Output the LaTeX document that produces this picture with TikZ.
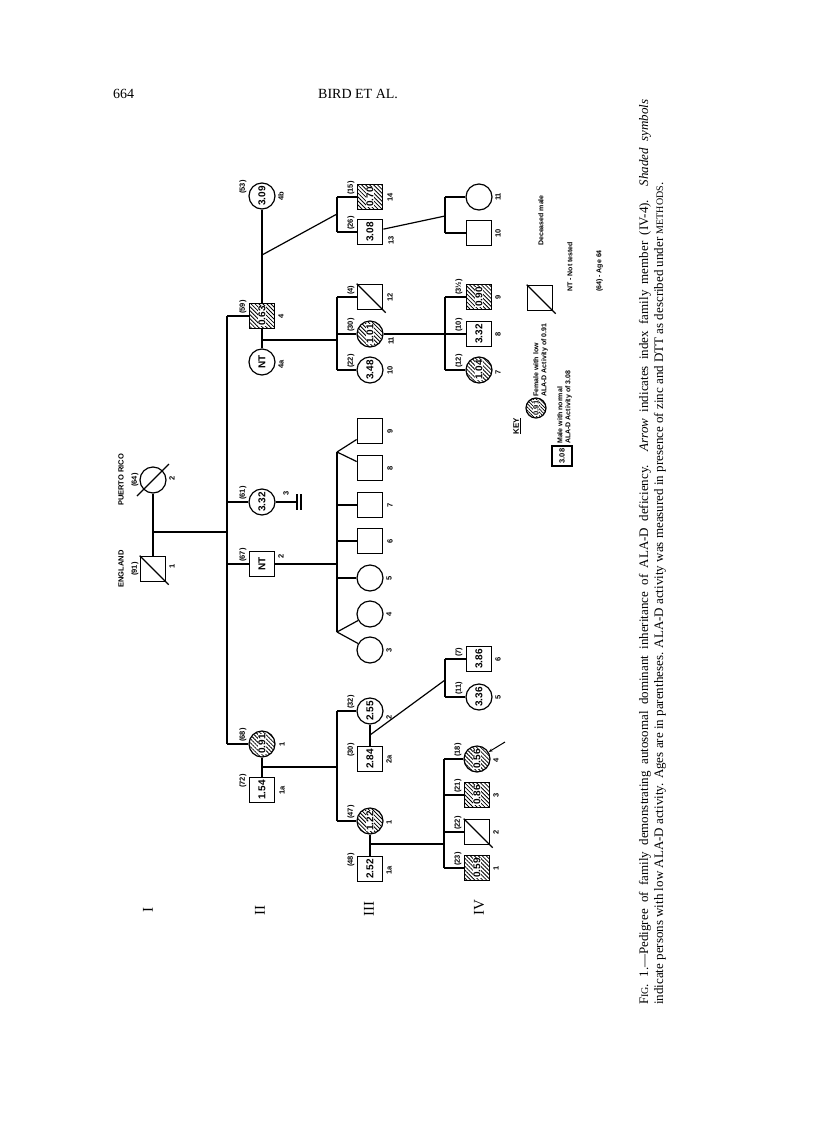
\documentclass[tikz,border=0pt]{standalone}
\usepackage{fontspec}
\setmainfont{Liberation Serif}
\newfontfamily\pedfont{Liberation Sans}
\usetikzlibrary{patterns.meta,arrows.meta}
\begin{document}
\begin{tikzpicture}[x=1pt,y=-1pt,
  ln/.style={line width=1.2pt},
  sym/.style={draw,line width=1.2pt,inner sep=0pt},
  msq/.style={sym,rectangle,minimum size=25.5pt},
  fci/.style={sym,circle,minimum size=26pt},
  val/.style={rotate=90,inner sep=0pt,font=\pedfont\bfseries\fontsize{10}{10}\selectfont},
  valw/.style={val,fill=white,inner sep=0.5pt},
  v/.style={label={[val]center:#1}},
  aff/.style={pattern={Lines[angle=-45,distance=2.8pt,line width=0.8pt]},label={[valw]center:#1}},
  age/.style={rotate=90,anchor=west,inner sep=0pt,font=\pedfont\bfseries\fontsize{7.5}{7.5}\selectfont},
  num/.style={rotate=90,inner sep=0pt,font=\pedfont\bfseries\fontsize{7.5}{7.5}\selectfont},
  keytx/.style={rotate=90,inner sep=0pt,align=left,font=\pedfont\bfseries\fontsize{7}{8}\selectfont},
  gentx/.style={rotate=90,inner sep=0pt,font=\fontsize{15}{15}\selectfont},
  captx/.style={rotate=90,anchor=west,inner sep=0pt,font=\fontsize{13}{13}\selectfont},
]
\useasboundingbox (0,0) rectangle (816,1122);
\fill[white] (0,0) rectangle (816,1122);

% header
\node[anchor=base west,inner sep=0pt,font=\fontsize{14}{14}\selectfont] (pg) at (113,98) {664};
\node[anchor=base west,inner sep=0pt,font=\fontsize{14}{14}\selectfont] (hd) at (318,98) {BIRD ET AL.};

% generation labels
\node[gentx] (gI) at (148,910) {I};
\node[gentx] (gII) at (260,910) {II};
\node[gentx] (gIII) at (369,909) {III};
\node[gentx] (gIV) at (479,908) {IV};

% ---------- Generation I
\node[msq] (I1) at (153,569) {};
\node[fci] (I2) at (153,480) {};
\draw[ln] (I1.north west) -- ++(29,29);
\draw[ln] (I2.center) ++(-16,16) -- ++(32,-32);
\node[num] (tEng) at (121,569) {ENGLAND};
\node[num] (tPR) at (121,480) {PUERTO RICO};
\node[num] (aI1) at (135,569) {(91)};
\node[num] (aI2) at (135,480) {(64)};
\node[num] (nI1) at (172,566) {1};
\node[num] (nI2) at (172,478) {2};
\draw[ln] (I2) -- (I1);
\coordinate (mI) at (153,532);
\coordinate (sII) at (227,532);
\draw[ln] (mI) -- (sII);

% ---------- Generation II
\node[msq,aff=0.63] (II4) at (262,316) {};
\node[fci,v=3.09] (II4b) at (262,196) {};
\node[fci,v=NT] (II4a) at (262,362) {};
\node[fci,v=3.32] (II3) at (262,502) {};
\node[msq,v=NT] (II2) at (262,564) {};
\node[fci,aff=0.91] (II1) at (262,744) {};
\node[msq,v=1.54] (II1a) at (262,790) {};
\draw[ln] (227,316) -- (227,744);
\draw[ln] (227,316) -- (II4);
\draw[ln] (227,502) -- (II3);
\draw[ln] (227,564) -- (II2);
\draw[ln] (227,744) -- (II1);
\draw[ln] (II4b) -- (II4);
\draw[ln] (II4) -- (II4a);
\draw[ln] (II1) -- (II1a);
\draw[ln] (II3) -- (297,502);
\draw[ln] (297,494) -- (297,510);
\draw[ln] (301,494) -- (301,510);
\node[age] at (243,314) {(59)};
\node[age] at (243,194) {(53)};
\node[age] at (243,500) {(61)};
\node[age] at (243,562) {(67)};
\node[age] at (243,742) {(68)};
\node[age] at (243,788) {(72)};
\node[num] at (281,316) {4};
\node[num] at (281,196) {4b};
\node[num] at (281,364) {4a};
\node[num] at (286,493) {3};
\node[num] at (281,556) {2};
\node[num] at (282,744) {1};
\node[num] at (282,790) {1a};

% ---------- Generation III
% children of II-4 x II-4b
\node[msq,aff=0.70] (III14) at (370,197) {};
\node[msq,v=3.08] (III13) at (370,232) {};
\coordinate (dA) at (262,255);
\draw[ln] (dA) -- (337,214);
\draw[ln] (337,197) -- (337,232);
\draw[ln] (337,197) -- (III14);
\draw[ln] (337,232) -- (III13);
% children of II-4 x II-4a
\node[msq] (III12) at (370,297) {};
\draw[ln] (III12.north west) -- ++(29,29);
\node[fci,aff=1.01] (III11) at (370,334) {};
\node[fci,v=3.48] (III10) at (370,370) {};
\draw[ln] (262,340) -- (337,340);
\draw[ln] (337,297) -- (337,370);
\draw[ln] (337,297) -- (III12);
\draw[ln] (337,334) -- (III11);
\draw[ln] (337,370) -- (III10);
% children of II-2
\node[msq] (III9) at (370,431) {};
\node[msq] (III8) at (370,468) {};
\node[msq] (III7) at (370,505) {};
\node[msq] (III6) at (370,541) {};
\node[fci] (III5) at (370,578) {};
\node[fci] (III4) at (370,614) {};
\node[fci] (III3) at (370,650) {};
\draw[ln] (II2) -- (337,564);
\draw[ln] (337,452) -- (337,632);
\draw[ln] (337,452) -- (III9);
\draw[ln] (337,452) -- (III8);
\draw[ln] (337,505) -- (III7);
\draw[ln] (337,541) -- (III6);
\draw[ln] (337,578) -- (III5);
\draw[ln] (337,632) -- (III4);
\draw[ln] (337,632) -- (III3);
% children of II-1 x II-1a
\node[fci,v=2.55] (III2) at (370,711) {};
\node[msq,v=2.84] (III2a) at (370,759) {};
\node[fci,aff=1.22] (III1) at (370,821) {};
\node[msq,v=2.52] (III1a) at (370,869) {};
\draw[ln] (262,767) -- (337,767);
\draw[ln] (337,711) -- (337,821);
\draw[ln] (337,711) -- (III2);
\draw[ln] (337,821) -- (III1);
\draw[ln] (III2) -- (III2a);
\draw[ln] (III1) -- (III1a);
% labels III
\node[age] at (351,195) {(15)};
\node[age] at (351,230) {(26)};
\node[age] at (351,295) {(4)};
\node[age] at (351,332) {(30)};
\node[age] at (351,368) {(22)};
\node[age] at (351,709) {(32)};
\node[age] at (351,757) {(30)};
\node[age] at (351,819) {(47)};
\node[age] at (351,867) {(48)};
\node[num] at (390,197) {14};
\node[num] at (391,240) {13};
\node[num] at (390,297) {12};
\node[num] at (391,341) {11};
\node[num] at (390,370) {10};
\node[num] at (390,431) {9};
\node[num] at (390,468) {8};
\node[num] at (390,505) {7};
\node[num] at (390,541) {6};
\node[num] at (389,578) {5};
\node[num] at (389,614) {4};
\node[num] at (389,650) {3};
\node[num] at (389,717) {2};
\node[num] at (389,759) {2a};
\node[num] at (389,822) {1};
\node[num] at (389,870) {1a};

% ---------- Generation IV
% children of III-13
\node[fci] (IV11) at (479,197) {};
\node[msq] (IV10) at (479,233) {};
\draw[ln] (III13) -- (445,216);
\draw[ln] (445,197) -- (445,233);
\draw[ln] (445,197) -- (IV11);
\draw[ln] (445,233) -- (IV10);
% children of III-11
\node[msq,aff=0.90] (IV9) at (479,297) {};
\node[msq,v=3.32] (IV8) at (479,334) {};
\node[fci,aff=1.04] (IV7) at (479,370) {};
\draw[ln] (III11) -- (IV8);
\draw[ln] (445,297) -- (445,370);
\draw[ln] (445,297) -- (IV9);
\draw[ln] (445,370) -- (IV7);
% children of III-2 x III-2a
\node[msq,v=3.86] (IV6) at (479,659) {};
\node[fci,v=3.36] (IV5) at (479,697) {};
\draw[ln] (370,735) -- (445,680);
\draw[ln] (445,659) -- (445,697);
\draw[ln] (445,659) -- (IV6);
\draw[ln] (445,697) -- (IV5);
% children of III-1 x III-1a
\node[fci,aff=0.56] (IV4) at (477,759) {};
\node[msq,aff=0.86] (IV3) at (477,795) {};
\node[msq] (IV2) at (477,832) {};
\draw[ln] (IV2.north west) -- ++(29,29);
\node[msq,aff=0.59] (IV1) at (477,868) {};
\draw[ln] (370,844) -- (444,844);
\draw[ln] (444,759) -- (444,868);
\draw[ln] (444,759) -- (IV4);
\draw[ln] (444,795) -- (IV3);
\draw[ln] (444,832) -- (IV2);
\draw[ln] (444,868) -- (IV1);
\coordinate (arr) at (505,742);
\draw[line width=1pt,-{Stealth[length=4pt,width=3pt]}] (arr) -- (IV4);
% labels IV
\node[age] at (459,295) {(3½)};
\node[age] at (459,332) {(10)};
\node[age] at (459,368) {(12)};
\node[age] at (459,657) {(7)};
\node[age] at (459,695) {(11)};
\node[age] at (458,757) {(18)};
\node[age] at (458,793) {(21)};
\node[age] at (458,830) {(22)};
\node[age] at (458,866) {(23)};
\node[num] at (498,197) {11};
\node[num] at (498,233) {10};
\node[num] at (498,297) {9};
\node[num] at (498,334) {8};
\node[num] at (498,372) {7};
\node[num] at (498,659) {6};
\node[num] at (498,697) {5};
\node[num] at (496,760) {4};
\node[num] at (496,795) {3};
\node[num] at (496,832) {2};
\node[num] at (496,868) {1};

% ---------- Key
\node[num,font=\pedfont\bfseries\fontsize{8}{8}\selectfont] (key) at (517,426) {\underline{KEY}};
\node[sym,circle,minimum size=20pt,pattern={Lines[angle=-45,distance=2.4pt,line width=0.7pt]},
  label={[val,fill=white,inner sep=0.3pt,font=\pedfont\bfseries\fontsize{7.5}{7.5}\selectfont]center:0.91}] (kF) at (536,408) {};
\node[keytx,anchor=north west] (kFt) at (533,397) {Female with low\\ALA-D Activity of 0.91};
\node[sym,rectangle,minimum size=20pt,label={[val,font=\pedfont\bfseries\fontsize{7.5}{7.5}\selectfont]center:3.08}] (kM) at (562,456) {};
\node[keytx,anchor=north west] (kMt) at (557,444) {Male with normal\\ALA-D Activity of 3.08};
\node[msq] (kD) at (540,298) {};
\draw[ln] (kD.north west) -- ++(29,29);
\node[keytx,anchor=north west] (kDt) at (538,246) {Deceased male};
\node[keytx,anchor=north west] (kNT) at (567,292) {NT - Not tested};
\node[keytx,anchor=north west] (kAg) at (596,292) {(64) - Age 64};

% ---------- Caption
\node[captx] (c1) at (645,1005) {\makebox[905pt][s]{F{\fontsize{10}{10}\selectfont IG}. 1.---Pedigree of family demonstrating autosomal dominant inheritance of ALA-D deficiency. \textit{Arrow} indicates index family member (IV-4). \textit{Shaded symbols}}};
\node[captx] (c2) at (660,1005) {indicate persons with low ALA-D activity. Ages are in parentheses. ALA-D activity was measured in presence of zinc and DTT as described under {\fontsize{10}{10}\selectfont METHODS}.};
\end{tikzpicture}
\end{document}
